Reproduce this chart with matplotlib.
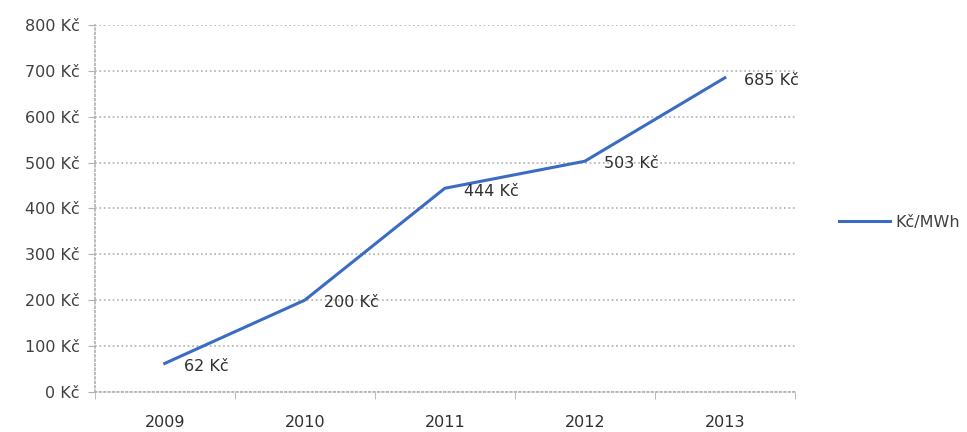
import numpy as np
import matplotlib.pyplot as plt

years = ['2009', '2010', '2011', '2012', '2013']
prices = [62, 200, 444, 503, 685]
labels = ['62 Kč', '200 Kč', '444 Kč', '503 Kč', '685 Kč']
yticks = [0, 100, 200, 300, 400, 500, 600, 700, 800]

fig = plt.figure(figsize=(9.67, 4.32), dpi=100)
ax = fig.add_axes([0.098, 0.093, 0.724, 0.849])

x = np.arange(len(years))
line, = ax.plot(x, prices, color='#3B6CC4', linewidth=2.2, label='Kč/MWh')
for xi, yi, t in zip(x, prices, labels):
    ax.annotate(t, (xi, yi), xytext=(14, -2), textcoords='offset points',
                ha='left', va='center', fontsize=11.5, color='#303030')

ax.set_xlim(-0.5, len(years) - 0.5)
ax.set_ylim(0, 800)
ax.set_yticks(yticks)
ax.set_yticklabels([f'{v} Kč' for v in yticks], fontsize=11.5, color='#404040')
ax.set_xticks(x)
ax.set_xticklabels(years, fontsize=11.5, color='#303030')
ax.tick_params(axis='x', length=0, pad=17)
ax.set_xticks(np.arange(-0.5, len(years)), minor=True)
ax.tick_params(axis='x', which='minor', length=5, color='#b0b0b0', direction='out')
ax.tick_params(axis='y', length=5, color='#b0b0b0', pad=6)

ax.grid(axis='y', color='#b0b0b0', linestyle=':', linewidth=1.2)
for s in ['top', 'right']:
    ax.spines[s].set_visible(False)
for s in ['left', 'bottom']:
    ax.spines[s].set_color('#b0b0b0')
    ax.spines[s].set_linestyle(':')
    ax.spines[s].set_linewidth(1.2)

fig.legend(handles=[line], loc='center left', bbox_to_anchor=(0.853, 0.485),
           frameon=False, fontsize=11.5, handlelength=3.2, handletextpad=0.3,
           labelcolor='#404040')

fig.savefig('out.png', dpi=100)
